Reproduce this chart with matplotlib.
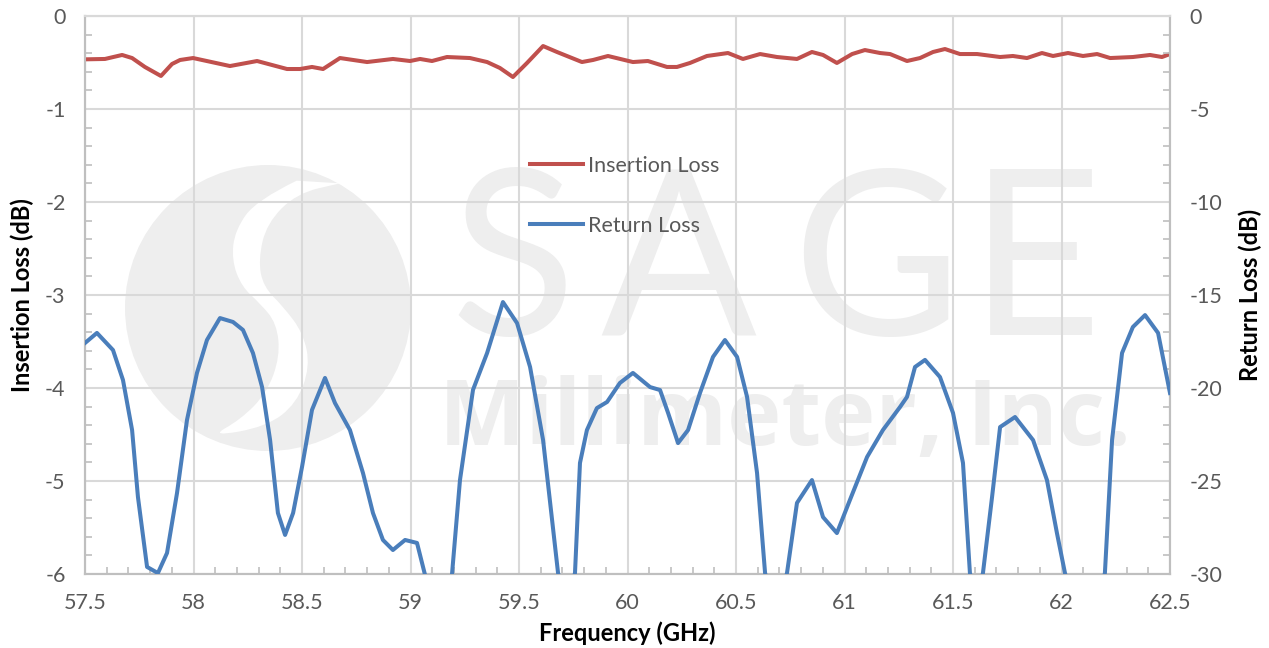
import matplotlib
matplotlib.use('Agg')
import matplotlib.pyplot as plt
import numpy as np
from matplotlib.patches import Ellipse, PathPatch
from matplotlib.path import Path
from matplotlib.ticker import MultipleLocator

plt.rcParams['font.family'] = ['Lato', 'DejaVu Sans']
plt.rcParams['axes.unicode_minus'] = False

# Insertion loss (left axis)
il_freq = [57.500, 57.592, 57.671, 57.717, 57.776, 57.850, 57.901, 57.938, 57.998, 58.168,
           58.293, 58.431, 58.491, 58.546, 58.597, 58.675, 58.800, 58.919, 58.998, 59.044,
           59.099, 59.168, 59.274, 59.353, 59.412, 59.472, 59.537, 59.611, 59.675, 59.790,
           59.841, 59.910, 60.025, 60.094, 60.182, 60.228, 60.288, 60.366, 60.463, 60.532,
           60.611, 60.689, 60.781, 60.850, 60.901, 60.965, 61.035, 61.094, 61.164, 61.210,
           61.288, 61.348, 61.408, 61.463, 61.532, 61.611, 61.717, 61.776, 61.841, 61.910,
           61.961, 62.030, 62.099, 62.164, 62.224, 62.329, 62.408, 62.463, 62.500]
il_db = [-0.466, -0.462, -0.419, -0.452, -0.548, -0.645, -0.516, -0.473, -0.452, -0.538,
         -0.484, -0.570, -0.570, -0.548, -0.570, -0.452, -0.495, -0.462, -0.484, -0.462,
         -0.484, -0.441, -0.452, -0.495, -0.559, -0.656, -0.505, -0.323, -0.387, -0.495,
         -0.473, -0.430, -0.495, -0.484, -0.548, -0.548, -0.505, -0.430, -0.398, -0.462,
         -0.409, -0.441, -0.462, -0.387, -0.419, -0.505, -0.409, -0.366, -0.398, -0.409,
         -0.484, -0.452, -0.387, -0.355, -0.409, -0.409, -0.441, -0.430, -0.452, -0.398,
         -0.430, -0.398, -0.430, -0.409, -0.452, -0.441, -0.419, -0.441, -0.409]

# Return loss (right axis)
rl_freq = [57.500, 57.555, 57.629, 57.675, 57.717, 57.744, 57.786, 57.836, 57.878, 57.924,
           57.970, 58.016, 58.062, 58.122, 58.182, 58.228, 58.274, 58.316, 58.353, 58.389,
           58.422, 58.459, 58.500, 58.546, 58.606, 58.652, 58.721, 58.781, 58.827, 58.873,
           58.919, 58.975, 59.030, 59.067, 59.130, 59.191, 59.228, 59.288, 59.353, 59.426,
           59.491, 59.551, 59.611, 59.680, 59.720, 59.758, 59.781, 59.813, 59.859, 59.906,
           59.965, 60.025, 60.104, 60.150, 60.187, 60.233, 60.279, 60.334, 60.394, 60.449,
           60.505, 60.551, 60.597, 60.634, 60.685, 60.735, 60.781, 60.850, 60.901, 60.965,
           61.025, 61.104, 61.177, 61.256, 61.288, 61.325, 61.371, 61.440, 61.500, 61.546,
           61.578, 61.610, 61.638, 61.680, 61.717, 61.786, 61.869, 61.933, 61.979, 62.016,
           62.110, 62.200, 62.233, 62.279, 62.329, 62.385, 62.445, 62.500]
rl_db = [-17.58, -17.04, -17.96, -19.57, -22.26, -25.86, -29.62, -29.95, -28.87, -25.65,
         -21.72, -19.19, -17.42, -16.24, -16.45, -16.88, -18.12, -19.95, -22.80, -26.72,
         -27.90, -26.72, -24.25, -21.18, -19.46, -20.81, -22.26, -24.57, -26.72, -28.17,
         -28.71, -28.17, -28.33, -30.05, -33.50, -30.05, -24.95, -20.10, -18.12, -15.38,
         -16.51, -18.87, -22.80, -29.95, -31.50, -29.95, -24.03, -22.26, -21.08, -20.75,
         -19.73, -19.19, -19.95, -20.11, -21.34, -22.96, -22.26, -20.27, -18.33, -17.42,
         -18.33, -20.48, -24.57, -29.95, -32.00, -29.95, -26.18, -24.95, -26.94, -27.80,
         -26.02, -23.71, -22.26, -21.02, -20.48, -18.87, -18.49, -19.41, -21.34, -24.03,
         -29.95, -31.20, -29.95, -25.86, -22.10, -21.56, -22.80, -24.95, -27.80, -29.95,
         -34.00, -29.95, -22.80, -18.12, -16.72, -16.08, -17.04, -20.27]

W, H = 1269, 648
L, R, T, B = 85, 1170, 16, 574
fig = plt.figure(figsize=(W / 100, H / 100), dpi=100)
ax = fig.add_axes([L / W, 1 - B / H, (R - L) / W, (B - T) / H])
ax2 = ax.twinx()
ax.patch.set_alpha(0)


def ax_xy(px, py):
    return ((px - L) / (R - L), (B - py) / (B - T))


# watermark: logo (disk with a white S band)
wm = '#eeeeee'
cx, cy = ax_xy(268, 308)
ax.add_patch(Ellipse((cx, cy), 2 * 143 / (R - L), 2 * 143 / (B - T), transform=ax.transAxes,
                     facecolor=wm, edgecolor='none', zorder=0.1))
outline = [(560, 92), (440, 150), (375, 240), (365, 330), (395, 410), (450, 460),
           (500, 520), (510, 620), (470, 730), (390, 810), (300, 860),
           (470, 830), (560, 760), (600, 650), (580, 550), (520, 470), (460, 410),
           (445, 330), (470, 220), (560, 130), (690, 100)]
p = [ax_xy(110 + zx / 3, 150 + zy / 3) for zx, zy in outline]
verts = [p[0]]
codes = [Path.MOVETO]
for i in range(1, len(p) - 1):
    mid = ((p[i][0] + p[i + 1][0]) / 2, (p[i][1] + p[i + 1][1]) / 2)
    verts += [p[i], mid]
    codes += [Path.CURVE3, Path.CURVE3]
verts += [p[-1], p[0]]
codes += [Path.LINETO, Path.CLOSEPOLY]
ax.add_patch(PathPatch(Path(verts, codes), transform=ax.transAxes, facecolor='white',
                       edgecolor='none', zorder=0.15))
# watermark: text
for letter, px in zip('SAGE', [513, 678, 876, 1035]):
    x0, y0 = ax_xy(px, 335)
    ax.text(x0, y0, letter, transform=ax.transAxes, ha='center', va='baseline',
            fontsize=166, color=wm, fontfamily='Lato', fontweight='normal', zorder=0.2)
x0, y0 = ax_xy(785, 445)
ax.text(x0, y0, 'Millimeter, Inc.', transform=ax.transAxes, ha='center', va='baseline',
        fontsize=66, color=wm, fontweight='bold', fontfamily='Open Sans', zorder=0.2)

red = '#c0504d'
blue = '#4a7ebb'
l1, = ax.plot(il_freq, il_db, color=red, lw=2.9, solid_joinstyle='round', label='Insertion Loss', zorder=3)
l2, = ax2.plot(rl_freq, rl_db, color=blue, lw=2.9, solid_joinstyle='round', label='Return Loss', zorder=3)

ax.set_xlim(57.5, 62.5)
ax.set_ylim(-6, 0)
ax2.set_ylim(-30, 0)
ax.xaxis.set_major_locator(MultipleLocator(0.5))
ax.xaxis.set_minor_locator(MultipleLocator(0.1))
ax.yaxis.set_major_locator(MultipleLocator(1))
ax.yaxis.set_minor_locator(MultipleLocator(0.2))
ax2.yaxis.set_major_locator(MultipleLocator(5))
ax2.yaxis.set_minor_locator(MultipleLocator(1))
ax.set_xticks(np.arange(57.5, 62.51, 0.5))
ax.set_xticklabels(['57.5', '58', '58.5', '59', '59.5', '60', '60.5', '61', '61.5', '62', '62.5'])

grid_c = '#d9d9d9'
ax.grid(True, which='major', color=grid_c, lw=1.5)
for a in (ax, ax2):
    for s in ('left', 'right', 'bottom'):
        a.spines[s].set_color('#bfbfbf')
        a.spines[s].set_linewidth(1.5)
    a.spines['top'].set_color(grid_c)
    a.spines['top'].set_linewidth(1.5)
    a.tick_params(which='major', length=0, labelsize=15.5, labelcolor='#595959', pad=14)
    a.tick_params(which='minor', direction='in', length=5, width=1.2, color='#bfbfbf')

ax.set_xlabel('Frequency (GHz)', fontsize=17, fontweight='bold', labelpad=6)
ax.set_ylabel('Insertion Loss (dB)', fontsize=17, fontweight='bold', labelpad=8)
ax2.set_ylabel('Return Loss (dB)', fontsize=17, fontweight='bold', labelpad=12)

lx, ly = ax_xy(530, 156)
leg = ax2.legend(handles=[l1, l2], loc='upper left', bbox_to_anchor=(lx, ly), frameon=False,
                 fontsize=15.5, handlelength=2.45, handletextpad=0.25, labelspacing=1.85,
                 borderpad=0, borderaxespad=0)
for t in leg.get_texts():
    t.set_color('#595959')

fig.savefig('out.png', dpi=100)
